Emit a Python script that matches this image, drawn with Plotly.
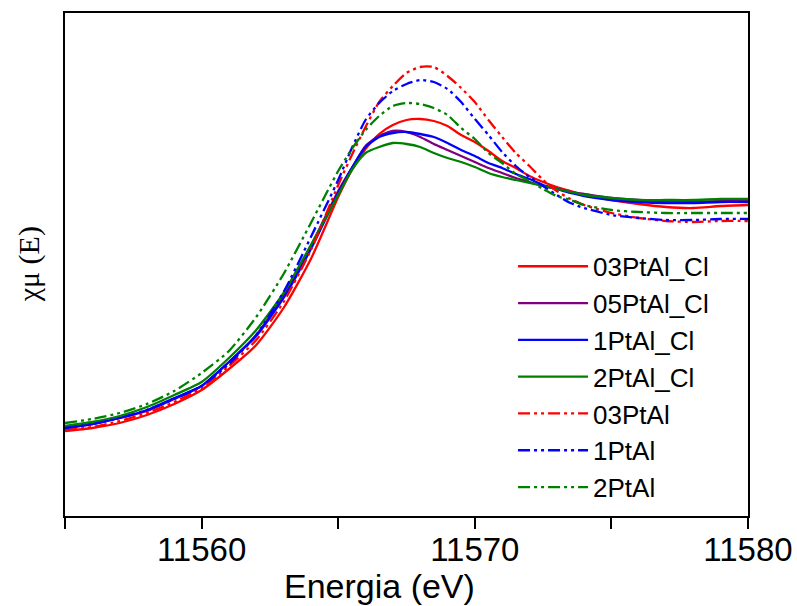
import plotly.graph_objects as go

# Energy grid (eV)
energy = [11555, 11556, 11557, 11558, 11559, 11560, 11561, 11562, 11563, 11564, 11565,
          11565.5, 11566, 11566.5, 11567, 11567.5, 11568, 11568.5, 11569, 11569.5, 11570,
          11570.5, 11571, 11571.5, 11572, 11572.5, 11573, 11573.5, 11574, 11575, 11576,
          11577, 11578, 11579, 11580]

# Normalized absorption (arbitrary units)
pt03_cl = [85, 88, 93, 101, 112, 126, 147, 171, 208, 257, 319, 346, 367, 382, 391, 396, 397, 395,
           390, 381, 374, 365, 355, 348, 340, 334, 329, 325, 321, 316, 312, 309, 308, 310, 311]
pt05_cl = [88, 92, 98, 105, 117, 130, 154, 181, 221, 270, 325, 348, 370, 380, 385, 384, 379, 372,
           366, 360, 354, 348, 343, 338, 334, 330, 327, 324, 322, 318, 316, 315, 314, 315, 315]
pt1_cl = [88, 92, 98, 106, 118, 130, 154, 180, 218, 267, 323, 348, 369, 379, 383, 384, 382, 379,
          373, 366, 360, 353, 348, 342, 337, 331, 327, 323, 320, 316, 314, 313, 313, 314, 314]
pt2_cl = [90, 94, 100, 109, 121, 134, 158, 186, 223, 271, 321, 346, 363, 369, 373, 372, 369, 363,
          358, 354, 349, 343, 339, 336, 333, 330, 327, 324, 321, 318, 316, 316, 316, 317, 317]
pt03 = [86, 89, 95, 103, 114, 128, 150, 176, 214, 266, 331, 361, 389, 414, 430, 443, 449, 449,
        440, 428, 414, 396, 379, 363, 350, 336, 325, 317, 311, 303, 298, 295, 294, 295, 295]
pt1 = [88, 92, 98, 106, 117, 130, 152, 181, 224, 279, 336, 368, 396, 413, 425, 432, 436, 434,
       427, 414, 397, 381, 364, 350, 339, 330, 321, 313, 308, 301, 298, 296, 296, 297, 297]
pt2 = [93, 97, 103, 112, 125, 143, 165, 199, 242, 293, 345, 367, 386, 400, 410, 413, 412, 408,
       401, 388, 377, 363, 353, 342, 335, 327, 320, 316, 311, 306, 304, 303, 303, 303, 303]

names = ["03PtAl_Cl", "05PtAl_Cl", "1PtAl_Cl", "2PtAl_Cl", "03PtAl", "1PtAl", "2PtAl"]
series = [pt03_cl, pt05_cl, pt1_cl, pt2_cl, pt03, pt1, pt2]
colors = ["#FF0000", "#800080", "#0000FF", "#008000", "#FF0000", "#0000FF", "#008000"]
dashes = ["solid", "solid", "solid", "solid",
          "12px,4px,3px,4px,3px,4px", "12px,4px,3px,4px,3px,4px", "12px,4px,3px,4px,3px,4px"]

tick_vals = [11555, 11560, 11565, 11570, 11575, 11580]
tick_text = ["", "11560", "", "11570", "", "11580"]

fig = go.Figure()
for nm, ys, c, d in zip(names, series, colors, dashes):
    fig.add_trace(go.Scatter(x=energy, y=ys, name=nm, mode="lines",
                             line=dict(color=c, width=2.3, dash=d, shape="spline", smoothing=0.6)))

fig.update_layout(
    width=797, height=606,
    margin=dict(l=65, r=49, t=13, b=90, autoexpand=False),
    paper_bgcolor="white", plot_bgcolor="white",
    font=dict(family="Liberation Sans, Arial, sans-serif", color="black"),
    showlegend=True,
    legend=dict(x=0.656, y=0.543, xanchor="left", yanchor="top",
                bgcolor="rgba(0,0,0,0)", font=dict(size=26, family="Liberation Sans, Arial"),
                itemwidth=70, tracegroupgap=0),
    xaxis=dict(range=[11555, 11580], tickvals=tick_vals, ticktext=tick_text,
               ticks="outside", ticklen=11, tickwidth=1.5, tickcolor="black",
               showline=True, linecolor="black", linewidth=1.5, mirror=True,
               showgrid=False, zeroline=False, automargin=False,
               ticklabelstandoff=-7,
               tickfont=dict(size=33, family="Liberation Sans, Arial")),
    yaxis=dict(range=[0, 503], showticklabels=False, ticks="",
               showline=True, linecolor="black", linewidth=1.5, mirror=True,
               showgrid=False, zeroline=False, automargin=False),
    annotations=[
        dict(text="Energia (eV)", xref="paper", yref="paper", x=0.461, y=-0.14,
             xanchor="center", yanchor="middle", showarrow=False,
             font=dict(size=34, family="Liberation Sans, Arial")),
        dict(text="χμ (E)", xref="paper", yref="paper", x=-0.053, y=0.50,
             xanchor="center", yanchor="middle", showarrow=False, textangle=-90,
             font=dict(size=30, family="Liberation Serif, Times New Roman, serif")),
    ],
)

fig.write_html("out.html")
